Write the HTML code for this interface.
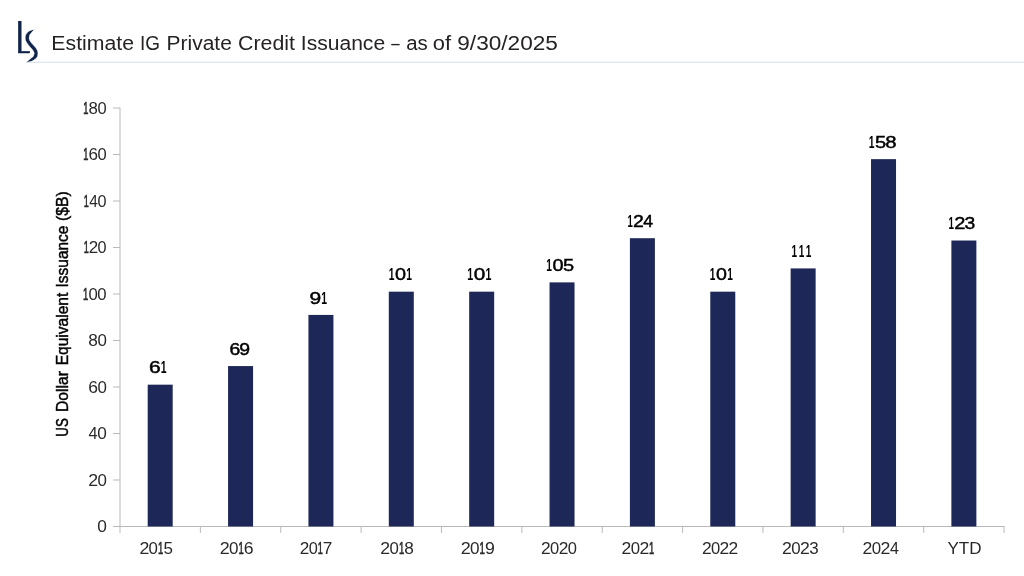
<!DOCTYPE html>
<html lang="en"><head><meta charset="utf-8"><title>Estimate IG Private Credit Issuance</title>
<style>
html,body{margin:0;padding:0;background:#fff;}
body{width:1024px;height:576px;overflow:hidden;font-family:"Liberation Sans",sans-serif;}
svg{display:block;}
svg text{font-family:"Liberation Sans",sans-serif;}
.tick{font-size:16.4px;fill:#2a2a2a;}
.val{font-size:17px;fill:#000;stroke:#000;stroke-width:0.45px;}
.ttl{font-size:20px;fill:#262223;}
.ylab{font-size:16px;fill:#000;stroke:#000;stroke-width:0.45px;}
</style></head><body>
<svg width="1024" height="576" viewBox="0 0 1024 576">
<rect width="1024" height="576" fill="#ffffff"/>
<rect x="27" y="61.7" width="997" height="1.1" fill="#d2e1e9"/>
<g id="logo" fill="#11244a" transform="translate(0,0)">
<svg x="17.9" y="15" width="11.9" height="39.5" overflow="hidden"><text style="font-family:'DejaVu Sans',sans-serif;font-weight:200;font-size:100px;text-rendering:geometricPrecision;stroke:#11244a;stroke-width:1px" transform="translate(-6.767,38.0) scale(0.578,0.4375)">L</text></svg>
<clipPath id="sw"><polygon points="15,15 45.9,15 28.9,35.6 45,35.6 45,70 17.6,70 33.6,56.2 15,56.2"/></clipPath>
<g clip-path="url(#sw)"><text style="font-family:'Liberation Serif',serif;font-size:100px;stroke:#fff;stroke-width:0.4px" transform="matrix(0 0.693 0.768 0 56.57 26.93)">~</text></g>
</g>
<text class="ttl" y="49.6"><tspan x="51.35" textLength="82.66" lengthAdjust="spacingAndGlyphs">Estimate</tspan> <tspan x="140.02" textLength="20.00" lengthAdjust="spacingAndGlyphs">IG</tspan> <tspan x="166.58" textLength="65.26" lengthAdjust="spacingAndGlyphs">Private</tspan> <tspan x="238.08" textLength="56.85" lengthAdjust="spacingAndGlyphs">Credit</tspan> <tspan x="300.85" textLength="84.27" lengthAdjust="spacingAndGlyphs">Issuance</tspan> <tspan x="391.36" textLength="8.40" lengthAdjust="spacingAndGlyphs">–</tspan> <tspan x="406.17" textLength="21.54" lengthAdjust="spacingAndGlyphs">as</tspan> <tspan x="432.79" textLength="18.29" lengthAdjust="spacingAndGlyphs">of</tspan> <tspan x="457.27" textLength="100.67" lengthAdjust="spacingAndGlyphs">9/30/2025</tspan></text>
<g stroke="#b9b9b9" stroke-width="1" fill="none">
<line x1="120.0" y1="107.50" x2="120.0" y2="532.90"/>
<line x1="113.0" y1="526.5" x2="1004.47" y2="526.5"/>
<line x1="113.0" y1="480.00" x2="120.0" y2="480.00"/>
<line x1="113.0" y1="433.50" x2="120.0" y2="433.50"/>
<line x1="113.0" y1="387.00" x2="120.0" y2="387.00"/>
<line x1="113.0" y1="340.50" x2="120.0" y2="340.50"/>
<line x1="113.0" y1="294.00" x2="120.0" y2="294.00"/>
<line x1="113.0" y1="247.50" x2="120.0" y2="247.50"/>
<line x1="113.0" y1="201.00" x2="120.0" y2="201.00"/>
<line x1="113.0" y1="154.50" x2="120.0" y2="154.50"/>
<line x1="113.0" y1="108.00" x2="120.0" y2="108.00"/>
<line x1="200.37" y1="526.5" x2="200.37" y2="532.90"/>
<line x1="280.74" y1="526.5" x2="280.74" y2="532.90"/>
<line x1="361.11" y1="526.5" x2="361.11" y2="532.90"/>
<line x1="441.48" y1="526.5" x2="441.48" y2="532.90"/>
<line x1="521.85" y1="526.5" x2="521.85" y2="532.90"/>
<line x1="602.22" y1="526.5" x2="602.22" y2="532.90"/>
<line x1="682.59" y1="526.5" x2="682.59" y2="532.90"/>
<line x1="762.96" y1="526.5" x2="762.96" y2="532.90"/>
<line x1="843.33" y1="526.5" x2="843.33" y2="532.90"/>
<line x1="923.70" y1="526.5" x2="923.70" y2="532.90"/>
<line x1="1004.07" y1="526.5" x2="1004.07" y2="532.90"/>
</g>
<text class="tick" y="532.10"><tspan x="97.23" textLength="9.65" lengthAdjust="spacingAndGlyphs">0</tspan></text>
<text class="tick" y="485.60"><tspan x="88.21" textLength="9.87" lengthAdjust="spacingAndGlyphs">2</tspan><tspan x="97.46" textLength="9.41" lengthAdjust="spacingAndGlyphs">0</tspan></text>
<text class="tick" y="439.10"><tspan x="88.42" textLength="9.09" lengthAdjust="spacingAndGlyphs">4</tspan><tspan x="97.30" textLength="9.57" lengthAdjust="spacingAndGlyphs">0</tspan></text>
<text class="tick" y="392.60"><tspan x="88.21" textLength="9.74" lengthAdjust="spacingAndGlyphs">6</tspan><tspan x="97.46" textLength="9.41" lengthAdjust="spacingAndGlyphs">0</tspan></text>
<text class="tick" y="346.10"><tspan x="88.35" textLength="9.60" lengthAdjust="spacingAndGlyphs">8</tspan><tspan x="97.46" textLength="9.41" lengthAdjust="spacingAndGlyphs">0</tspan></text>
<text class="tick" y="299.60"><tspan x="82.98" textLength="5.23" lengthAdjust="spacingAndGlyphs" style="stroke:#2a2a2a;stroke-width:0.7px">1</tspan><tspan x="88.42" textLength="9.31" lengthAdjust="spacingAndGlyphs">0</tspan><tspan x="97.34" textLength="9.31" lengthAdjust="spacingAndGlyphs">0</tspan></text>
<text class="tick" y="253.10"><tspan x="83.71" textLength="5.06" lengthAdjust="spacingAndGlyphs" style="stroke:#2a2a2a;stroke-width:0.7px">1</tspan><tspan x="88.75" textLength="9.47" lengthAdjust="spacingAndGlyphs">2</tspan><tspan x="97.62" textLength="9.02" lengthAdjust="spacingAndGlyphs">0</tspan></text>
<text class="tick" y="206.60"><tspan x="83.71" textLength="5.06" lengthAdjust="spacingAndGlyphs" style="stroke:#2a2a2a;stroke-width:0.7px">1</tspan><tspan x="89.25" textLength="8.56" lengthAdjust="spacingAndGlyphs">4</tspan><tspan x="97.62" textLength="9.02" lengthAdjust="spacingAndGlyphs">0</tspan></text>
<text class="tick" y="160.10"><tspan x="83.29" textLength="5.16" lengthAdjust="spacingAndGlyphs" style="stroke:#2a2a2a;stroke-width:0.7px">1</tspan><tspan x="88.43" textLength="9.51" lengthAdjust="spacingAndGlyphs">6</tspan><tspan x="97.46" textLength="9.19" lengthAdjust="spacingAndGlyphs">0</tspan></text>
<text class="tick" y="113.60"><tspan x="83.29" textLength="5.16" lengthAdjust="spacingAndGlyphs" style="stroke:#2a2a2a;stroke-width:0.7px">1</tspan><tspan x="88.56" textLength="9.37" lengthAdjust="spacingAndGlyphs">8</tspan><tspan x="97.46" textLength="9.19" lengthAdjust="spacingAndGlyphs">0</tspan></text>
<g fill="#1e2858">
<rect x="147.69" y="384.67" width="25.0" height="141.83"/>
<rect x="228.06" y="366.07" width="25.0" height="160.43"/>
<rect x="308.43" y="314.92" width="25.0" height="211.58"/>
<rect x="388.80" y="291.67" width="25.0" height="234.83"/>
<rect x="469.17" y="291.67" width="25.0" height="234.83"/>
<rect x="549.54" y="282.38" width="25.0" height="244.13"/>
<rect x="629.90" y="238.20" width="25.0" height="288.30"/>
<rect x="710.28" y="291.67" width="25.0" height="234.83"/>
<rect x="790.64" y="268.42" width="25.0" height="258.08"/>
<rect x="871.02" y="159.15" width="25.0" height="367.35"/>
<rect x="951.38" y="240.52" width="25.0" height="285.98"/>
</g>
<text class="val" y="373.47"><tspan x="148.93" textLength="11.70" lengthAdjust="spacingAndGlyphs">6</tspan><tspan x="160.73" textLength="5.81" lengthAdjust="spacingAndGlyphs" style="font-weight:bold;stroke:none">1</tspan></text>
<text class="tick" y="553.60"><tspan x="139.41" textLength="9.86" lengthAdjust="spacingAndGlyphs">2</tspan><tspan x="148.64" textLength="9.40" lengthAdjust="spacingAndGlyphs">0</tspan><tspan x="157.98" textLength="5.27" lengthAdjust="spacingAndGlyphs" style="stroke:#2a2a2a;stroke-width:0.7px">1</tspan><tspan x="163.44" textLength="9.47" lengthAdjust="spacingAndGlyphs">5</tspan></text>
<text class="val" y="354.88"><tspan x="229.52" textLength="10.81" lengthAdjust="spacingAndGlyphs">6</tspan><tspan x="239.36" textLength="10.81" lengthAdjust="spacingAndGlyphs">9</tspan></text>
<text class="tick" y="553.60"><tspan x="219.71" textLength="9.95" lengthAdjust="spacingAndGlyphs">2</tspan><tspan x="229.02" textLength="9.48" lengthAdjust="spacingAndGlyphs">0</tspan><tspan x="238.45" textLength="5.32" lengthAdjust="spacingAndGlyphs" style="stroke:#2a2a2a;stroke-width:0.7px">1</tspan><tspan x="243.75" textLength="9.82" lengthAdjust="spacingAndGlyphs">6</tspan></text>
<text class="val" y="303.72"><tspan x="309.51" textLength="11.70" lengthAdjust="spacingAndGlyphs">9</tspan><tspan x="321.23" textLength="5.81" lengthAdjust="spacingAndGlyphs" style="font-weight:bold;stroke:none">1</tspan></text>
<text class="tick" y="553.60"><tspan x="299.74" textLength="9.55" lengthAdjust="spacingAndGlyphs">2</tspan><tspan x="308.68" textLength="9.10" lengthAdjust="spacingAndGlyphs">0</tspan><tspan x="317.73" textLength="5.11" lengthAdjust="spacingAndGlyphs" style="stroke:#2a2a2a;stroke-width:0.7px">1</tspan><tspan x="322.79" textLength="9.58" lengthAdjust="spacingAndGlyphs">7</tspan></text>
<text class="val" y="280.47"><tspan x="388.86" textLength="5.68" lengthAdjust="spacingAndGlyphs" style="font-weight:bold;stroke:none">1</tspan><tspan x="395.11" textLength="11.04" lengthAdjust="spacingAndGlyphs">0</tspan><tspan x="406.36" textLength="5.68" lengthAdjust="spacingAndGlyphs" style="font-weight:bold;stroke:none">1</tspan></text>
<text class="tick" y="553.60"><tspan x="380.36" textLength="9.84" lengthAdjust="spacingAndGlyphs">2</tspan><tspan x="389.58" textLength="9.38" lengthAdjust="spacingAndGlyphs">0</tspan><tspan x="398.90" textLength="5.27" lengthAdjust="spacingAndGlyphs" style="stroke:#2a2a2a;stroke-width:0.7px">1</tspan><tspan x="404.28" textLength="9.57" lengthAdjust="spacingAndGlyphs">8</tspan></text>
<text class="val" y="280.47"><tspan x="467.33" textLength="5.93" lengthAdjust="spacingAndGlyphs" style="font-weight:bold;stroke:none">1</tspan><tspan x="473.86" textLength="11.54" lengthAdjust="spacingAndGlyphs">0</tspan><tspan x="485.62" textLength="5.93" lengthAdjust="spacingAndGlyphs" style="font-weight:bold;stroke:none">1</tspan></text>
<text class="tick" y="553.60"><tspan x="460.70" textLength="10.01" lengthAdjust="spacingAndGlyphs">2</tspan><tspan x="470.07" textLength="9.54" lengthAdjust="spacingAndGlyphs">0</tspan><tspan x="479.56" textLength="5.36" lengthAdjust="spacingAndGlyphs" style="stroke:#2a2a2a;stroke-width:0.7px">1</tspan><tspan x="484.96" textLength="9.88" lengthAdjust="spacingAndGlyphs">9</tspan></text>
<text class="val" y="271.18"><tspan x="546.35" textLength="5.69" lengthAdjust="spacingAndGlyphs" style="font-weight:bold;stroke:none">1</tspan><tspan x="552.62" textLength="11.06" lengthAdjust="spacingAndGlyphs">0</tspan><tspan x="562.94" textLength="11.15" lengthAdjust="spacingAndGlyphs">5</tspan></text>
<text class="tick" y="553.60"><tspan x="541.03" textLength="9.66" lengthAdjust="spacingAndGlyphs">2</tspan><tspan x="550.07" textLength="9.20" lengthAdjust="spacingAndGlyphs">0</tspan><tspan x="558.66" textLength="9.66" lengthAdjust="spacingAndGlyphs">2</tspan><tspan x="567.70" textLength="9.20" lengthAdjust="spacingAndGlyphs">0</tspan></text>
<text class="val" y="227.00"><tspan x="627.40" textLength="5.31" lengthAdjust="spacingAndGlyphs" style="font-weight:bold;stroke:none">1</tspan><tspan x="632.99" textLength="10.83" lengthAdjust="spacingAndGlyphs">2</tspan><tspan x="643.22" textLength="9.80" lengthAdjust="spacingAndGlyphs">4</tspan></text>
<text class="tick" y="553.60"><tspan x="621.62" textLength="9.78" lengthAdjust="spacingAndGlyphs">2</tspan><tspan x="630.78" textLength="9.32" lengthAdjust="spacingAndGlyphs">0</tspan><tspan x="639.48" textLength="9.78" lengthAdjust="spacingAndGlyphs">2</tspan><tspan x="648.97" textLength="5.23" lengthAdjust="spacingAndGlyphs" style="stroke:#2a2a2a;stroke-width:0.7px">1</tspan></text>
<text class="val" y="280.47"><tspan x="709.86" textLength="5.61" lengthAdjust="spacingAndGlyphs" style="font-weight:bold;stroke:none">1</tspan><tspan x="716.05" textLength="10.92" lengthAdjust="spacingAndGlyphs">0</tspan><tspan x="727.17" textLength="5.61" lengthAdjust="spacingAndGlyphs" style="font-weight:bold;stroke:none">1</tspan></text>
<text class="tick" y="553.60"><tspan x="701.93" textLength="9.70" lengthAdjust="spacingAndGlyphs">2</tspan><tspan x="711.01" textLength="9.24" lengthAdjust="spacingAndGlyphs">0</tspan><tspan x="719.63" textLength="9.70" lengthAdjust="spacingAndGlyphs">2</tspan><tspan x="728.48" textLength="9.70" lengthAdjust="spacingAndGlyphs">2</tspan></text>
<text class="val" y="257.22"><tspan x="791.57" textLength="5.59" lengthAdjust="spacingAndGlyphs" style="font-weight:bold;stroke:none">1</tspan><tspan x="798.63" textLength="5.59" lengthAdjust="spacingAndGlyphs" style="font-weight:bold;stroke:none">1</tspan><tspan x="805.69" textLength="5.59" lengthAdjust="spacingAndGlyphs" style="font-weight:bold;stroke:none">1</tspan></text>
<text class="tick" y="553.60"><tspan x="782.12" textLength="9.84" lengthAdjust="spacingAndGlyphs">2</tspan><tspan x="791.33" textLength="9.38" lengthAdjust="spacingAndGlyphs">0</tspan><tspan x="800.07" textLength="9.84" lengthAdjust="spacingAndGlyphs">2</tspan><tspan x="809.29" textLength="9.45" lengthAdjust="spacingAndGlyphs">3</tspan></text>
<text class="val" y="147.95"><tspan x="868.75" textLength="5.72" lengthAdjust="spacingAndGlyphs" style="font-weight:bold;stroke:none">1</tspan><tspan x="875.02" textLength="11.21" lengthAdjust="spacingAndGlyphs">5</tspan><tspan x="885.35" textLength="11.34" lengthAdjust="spacingAndGlyphs">8</tspan></text>
<text class="tick" y="553.60"><tspan x="862.52" textLength="9.84" lengthAdjust="spacingAndGlyphs">2</tspan><tspan x="871.73" textLength="9.38" lengthAdjust="spacingAndGlyphs">0</tspan><tspan x="880.47" textLength="9.84" lengthAdjust="spacingAndGlyphs">2</tspan><tspan x="889.97" textLength="8.90" lengthAdjust="spacingAndGlyphs">4</tspan></text>
<text class="val" y="229.32"><tspan x="948.48" textLength="5.48" lengthAdjust="spacingAndGlyphs" style="font-weight:bold;stroke:none">1</tspan><tspan x="954.25" textLength="11.18" lengthAdjust="spacingAndGlyphs">2</tspan><tspan x="964.50" textLength="10.74" lengthAdjust="spacingAndGlyphs">3</tspan></text>
<text class="tick" x="947.48" y="553.60" textLength="34.18" lengthAdjust="spacingAndGlyphs">YTD</text>
<text class="ylab" transform="translate(67.8,435.7) rotate(-90)" y="0"><tspan x="-1.00" textLength="18.53" lengthAdjust="spacingAndGlyphs">US</tspan> <tspan x="23.71" textLength="40.99" lengthAdjust="spacingAndGlyphs">Dollar</tspan> <tspan x="70.39" textLength="72.66" lengthAdjust="spacingAndGlyphs">Equivalent</tspan> <tspan x="148.19" textLength="61.98" lengthAdjust="spacingAndGlyphs">Issuance</tspan> <tspan x="214.71" textLength="29.74" lengthAdjust="spacingAndGlyphs">($B)</tspan></text>
</svg>
</body></html>
